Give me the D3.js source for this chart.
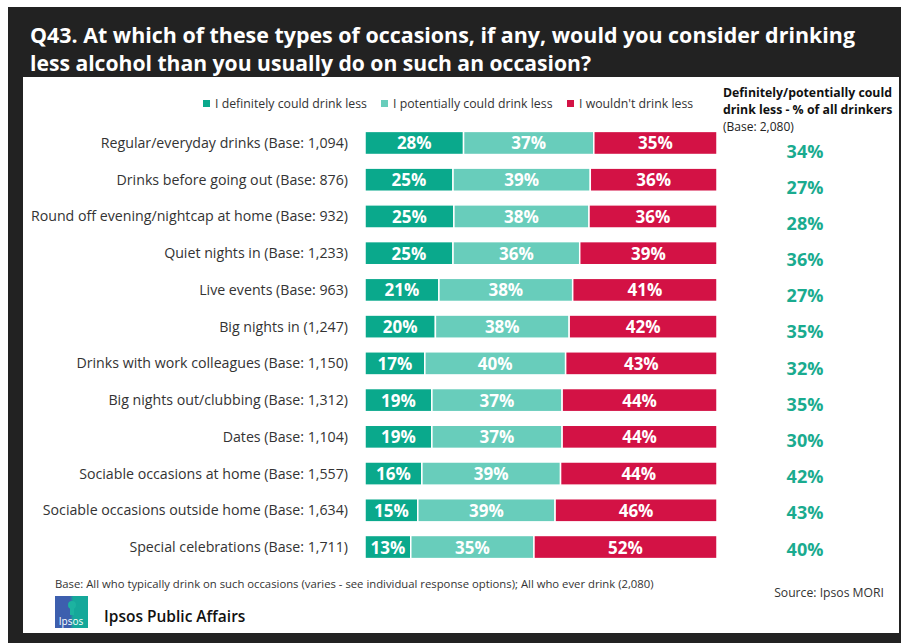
<!DOCTYPE html>
<html><head><meta charset="utf-8">
<script src="https://cdn.jsdelivr.net/npm/d3@7"></script>
<style>html,body{margin:0;padding:0;background:#fff;}svg{display:block;}</style>
</head><body>
<svg id="c" width="901" height="643"></svg>
<script>
const categories = [
  "Regular/everyday drinks (Base: 1,094)",
  "Drinks before going out (Base: 876)",
  "Round off evening/nightcap at home (Base: 932)",
  "Quiet nights in (Base: 1,233)",
  "Live events (Base: 963)",
  "Big nights in (1,247)",
  "Drinks with work colleagues (Base: 1,150)",
  "Big nights out/clubbing (Base: 1,312)",
  "Dates (Base: 1,104)",
  "Sociable occasions at home (Base: 1,557)",
  "Sociable occasions outside home (Base: 1,634)",
  "Special celebrations (Base: 1,711)"
];
const definitely = [28,25,25,25,21,20,17,19,19,16,15,13];
const potentially = [37,39,38,36,38,38,40,37,37,39,39,35];
const wouldnt = [35,36,36,39,41,42,43,44,44,44,46,52];
const allDrinkers = [34,27,28,36,27,35,32,35,30,42,43,40];
const seriesNames = ["I definitely could drink less","I potentially could drink less","I wouldn't drink less"];
const colors = ["#0aa98c","#68cdbb","#d31245"];

const svg = d3.select("#c");
const FONT = "'Open Sans', 'Noto Sans', sans-serif";

// background frame
svg.append("rect").attr("x",8).attr("y",7).attr("width",893).attr("height",636).attr("fill","#222222");
svg.append("rect").attr("x",23).attr("y",77).attr("width",876).attr("height",556).attr("fill","#ffffff");

// title
const title = ["Q43. At which of these types of occasions, if any, would you consider drinking",
               "less alcohol than you usually do on such an occasion?"];
svg.append("text").attr("x",30).attr("y",43).attr("fill","#fff").attr("font-family",FONT)
  .attr("font-weight","bold").attr("font-size",21).attr("textLength",825).attr("lengthAdjust","spacingAndGlyphs").text(title[0]);
svg.append("text").attr("x",30).attr("y",71).attr("fill","#fff").attr("font-family",FONT)
  .attr("font-weight","bold").attr("font-size",21).attr("textLength",561).attr("lengthAdjust","spacingAndGlyphs").text(title[1]);

// scales
const x = d3.scaleLinear().domain([0,100]).range([365,717]);
const y = d3.scaleBand().domain(categories).range([124.6,565.4]).paddingInner(0.37).paddingOuter(0.185);
const yRight = d3.scalePoint().domain(categories).range([151,549]);

const rows = categories.map((c,i)=>{
  const vals=[definitely[i],potentially[i],wouldnt[i]];
  const total=d3.sum(vals);
  let cum=0;
  return vals.map((v,k)=>{const s={cat:c,k,v,x0:cum/total*100,x1:(cum+v)/total*100};cum+=v;return s;});
});

const g = svg.append("g");
rows.forEach(r=>{
  g.selectAll(null).data(r).enter().append("rect")
    .attr("x",d=>x(d.x0)).attr("y",d=>y(d.cat)).attr("width",d=>x(d.x1)-x(d.x0)).attr("height",y.bandwidth())
    .attr("fill",d=>colors[d.k]).attr("stroke","#fff").attr("stroke-width",1.5);
  g.selectAll(null).data(r).enter().append("text")
    .attr("x",d=>(x(d.x0)+x(d.x1))/2).attr("y",d=>y(d.cat)+y.bandwidth()/2+6.5)
    .attr("text-anchor","middle").attr("fill","#fff").attr("font-family",FONT).attr("font-weight","bold").attr("font-size",17)
    .text(d=>d.v+"%");
});

// category labels
svg.append("g").selectAll("text").data(categories).enter().append("text")
  .attr("x",348).attr("y",d=>y(d)+y.bandwidth()/2+5).attr("text-anchor","end")
  .attr("font-family",FONT).attr("font-size",14.2).attr("fill","#333").text(d=>d);

// right column
svg.append("g").selectAll("text").data(allDrinkers).enter().append("text")
  .attr("x",805).attr("y",(d,i)=>yRight(categories[i])+6.5).attr("text-anchor","middle")
  .attr("font-family",FONT).attr("font-weight","bold").attr("font-size",18).attr("fill","#1aab8f").text(d=>d+"%");

svg.append("text").attr("x",723).attr("y",97).attr("font-family",FONT).attr("font-weight","bold").attr("font-size",12.3).attr("fill","#111").text("Definitely/potentially could");
svg.append("text").attr("x",723).attr("y",114).attr("font-family",FONT).attr("font-weight","bold").attr("font-size",12.3).attr("fill","#111").text("drink less - % of all drinkers");
svg.append("text").attr("x",723).attr("y",131).attr("font-family",FONT).attr("font-size",12).attr("fill","#222").text("(Base: 2,080)");

// legend
const legX = [203,381,567];
const leg = svg.append("g").selectAll("g").data(seriesNames).enter().append("g")
  .attr("transform",(d,i)=>`translate(${legX[i]},104)`);
leg.append("rect").attr("x",0).attr("y",-4).attr("width",7).attr("height",7).attr("fill",(d,i)=>colors[i]);
leg.append("text").attr("x",12).attr("y",4).attr("font-family",FONT).attr("font-size",12.3).attr("fill","#333").text(d=>d);

// footer
svg.append("text").attr("x",55).attr("y",588).attr("font-family",FONT).attr("font-size",11.3).attr("fill","#333")
  .text("Base:  All who typically drink on such occasions (varies - see individual response options); All who ever drink (2,080)");
svg.append("text").attr("x",884).attr("y",597).attr("text-anchor","end").attr("font-family",FONT).attr("font-size",12.2).attr("fill","#333").text("Source: Ipsos MORI");

// logo
const defs = svg.append("defs");
const lg = defs.append("linearGradient").attr("id","lg").attr("x1","0").attr("x2","1");
lg.append("stop").attr("offset","0.45").attr("stop-color","#3d5fae");
lg.append("stop").attr("offset","0.55").attr("stop-color","#15a89a");
svg.append("rect").attr("x",55).attr("y",596).attr("width",33).attr("height",32).attr("fill","url(#lg)");
svg.append("circle").attr("cx",72).attr("cy",605).attr("r",4).attr("fill","#1cb3a0");
svg.append("rect").attr("x",70).attr("y",607).attr("width",4).attr("height",8).attr("fill","#1cb3a0");
svg.append("text").attr("x",71).attr("y",625).attr("text-anchor","middle").attr("font-family",FONT).attr("font-size",10).attr("fill","#fff").text("Ipsos");
svg.append("text").attr("x",104).attr("y",622).attr("font-family",FONT).attr("font-weight","600").attr("font-size",15.5).attr("fill","#111").text("Ipsos Public Affairs");
</script>
</body></html>
